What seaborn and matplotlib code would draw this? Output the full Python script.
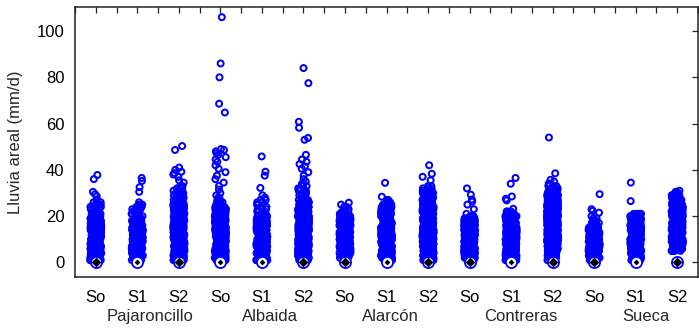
import numpy as np
import pandas as pd
import matplotlib
matplotlib.use("Agg")
import matplotlib.pyplot as plt
import matplotlib.transforms as mtransforms
from matplotlib.ticker import FixedLocator
import seaborn as sns

# ---------------- data ----------------
BASINS = ["Pajaroncillo", "Albaida", "Alarcón", "Contreras", "Sueca"]
SCENARIOS = ["So", "S1", "S2"]
Y_TICKS = [0, 20, 40, 60, 80, 100]
Y_LABEL = "Lluvia areal (mm/d)"

# daily rainfall classes (mm/d) used for the dense body of each strip
BIN_MM = [1, 2, 3, 4, 5, 6, 7, 8, 9, 10, 11, 12, 13, 14, 15, 16, 17, 18,
          19, 20, 21, 22, 23, 24, 25, 26, 27, 28, 29, 30, 31, 32, 33, 34, 35, 36]

# number of days per class (starting at 1 mm/d)
counts_pajaroncillo_so = [11, 11, 11, 11, 11, 11, 11, 11, 11, 11, 11, 11, 11, 11, 11, 11, 11, 11, 8, 8, 8, 7, 4, 4, 3, 2, 1]
counts_pajaroncillo_s1 = [11, 11, 11, 11, 11, 11, 11, 11, 11, 11, 11, 11, 11, 11, 11, 8, 8, 7, 6, 5, 4, 4, 3, 3, 2, 1]
counts_pajaroncillo_s2 = [13, 13, 13, 13, 13, 13, 13, 13, 13, 13, 13, 13, 13, 13, 13, 13, 13, 13, 13, 13, 13, 12, 12, 11, 6, 5, 5, 4, 3, 3, 3, 2, 2]
counts_albaida_so = [13, 13, 13, 13, 13, 13, 13, 13, 13, 13, 13, 13, 13, 13, 13, 13, 13, 13, 13, 13, 13, 12, 12, 10, 4, 3, 2, 2, 1, 1]
counts_albaida_s1 = [11, 11, 11, 11, 11, 11, 11, 11, 11, 11, 11, 11, 11, 11, 11, 11, 11, 11, 10, 9, 4, 4, 3, 2, 2, 2, 2, 1, 1]
counts_albaida_s2 = [13, 13, 13, 13, 13, 13, 13, 13, 13, 13, 13, 13, 13, 13, 13, 13, 13, 13, 13, 13, 13, 13, 13, 12, 11, 10, 4, 4, 3, 3, 2, 2, 2, 2, 1, 1]
counts_alarcon_so = [0, 3, 11, 11, 11, 11, 11, 11, 11, 11, 11, 11, 11, 11, 11, 11, 11, 10, 9, 8, 4, 3, 2, 2, 1]
counts_alarcon_s1 = [11, 11, 11, 11, 11, 11, 11, 11, 11, 11, 11, 11, 11, 11, 11, 11, 11, 11, 11, 11, 11, 10, 9, 8, 4, 3, 2]
counts_alarcon_s2 = [13, 13, 13, 13, 13, 13, 13, 13, 13, 13, 13, 13, 13, 13, 13, 13, 13, 13, 13, 13, 13, 13, 13, 13, 13, 12, 12, 11, 10, 9, 4, 3, 2]
counts_contreras_so = [2, 11, 11, 11, 11, 11, 11, 11, 11, 11, 11, 11, 11, 11, 11, 11, 10, 9, 6, 3]
counts_contreras_s1 = [11, 11, 11, 11, 11, 11, 11, 11, 11, 11, 11, 11, 11, 11, 11, 11, 11, 11, 10, 8, 6, 3]
counts_contreras_s2 = [2, 5, 13, 13, 13, 13, 13, 13, 13, 13, 13, 13, 13, 13, 13, 13, 13, 13, 13, 13, 13, 13, 13, 13, 13, 13, 13, 13, 12, 11, 10, 5, 4, 2]
counts_sueca_so = [2, 11, 11, 11, 11, 11, 11, 11, 11, 11, 11, 11, 11, 10, 8, 4, 3, 2, 2, 1]
counts_sueca_s1 = [11, 11, 11, 11, 11, 11, 11, 11, 11, 11, 11, 11, 11, 11, 11, 11, 11, 11, 10, 9, 4]
counts_sueca_s2 = [0, 0, 0, 0, 5, 13, 13, 13, 13, 13, 13, 13, 13, 13, 13, 13, 13, 13, 13, 13, 13, 13, 13, 13, 13, 13, 12, 11, 5, 3]

# isolated (extreme) days, mm/d
extremes_pajaroncillo_so = [28.6, 29.5, 30.5, 36.0, 37.8]
extremes_pajaroncillo_s1 = [30.5, 32.5, 35.2, 36.5]
extremes_pajaroncillo_s2 = [34.5, 35.5, 37.0, 38.0, 38.6, 39.2, 40.0, 41.0, 48.6, 50.3]
extremes_albaida_so = [31.5, 33.0, 34.5, 36.0, 37.5, 39.0, 40.5, 42.0, 43.5, 44.5, 45.5,
                       46.5, 47.2, 48.0, 48.6, 49.0, 64.8, 68.6, 80.0, 86.0, 106.0]
extremes_albaida_s1 = [32.2, 37.5, 39.2, 45.8]
extremes_albaida_s2 = [37.5, 39.0, 40.5, 41.5, 42.5, 43.5, 44.5, 46.5, 53.0, 53.8, 58.2, 60.8, 77.5, 84.0]
extremes_alarcon_so = [25.8]
extremes_alarcon_s1 = [28.4, 34.4]
extremes_alarcon_s2 = [35.5, 37.0, 38.3, 42.0]
extremes_contreras_so = [21.0, 23.0, 25.0, 26.3, 27.2, 29.3, 32.0]
extremes_contreras_s1 = [23.2, 26.8, 27.5, 28.5, 34.0, 36.5]
extremes_contreras_s2 = [35.0, 35.7, 38.5, 54.0]
extremes_sueca_so = [21.5, 22.3, 23.0, 29.5]
extremes_sueca_s1 = [26.5, 34.5]
extremes_sueca_s2 = [30.5, 31.0]

# dry days (0 mm/d), one marker per series
dry_day_mm = [0, 0, 0, 0, 0, 0, 0, 0, 0, 0, 0, 0, 0, 0, 0]

# ---------------- build tidy table ----------------
series_keys = [f"{b} {s}" for b in BASINS for s in SCENARIOS]
counts_all = [counts_pajaroncillo_so, counts_pajaroncillo_s1, counts_pajaroncillo_s2,
              counts_albaida_so, counts_albaida_s1, counts_albaida_s2,
              counts_alarcon_so, counts_alarcon_s1, counts_alarcon_s2,
              counts_contreras_so, counts_contreras_s1, counts_contreras_s2,
              counts_sueca_so, counts_sueca_s1, counts_sueca_s2]
extremes_all = [extremes_pajaroncillo_so, extremes_pajaroncillo_s1, extremes_pajaroncillo_s2,
                extremes_albaida_so, extremes_albaida_s1, extremes_albaida_s2,
                extremes_alarcon_so, extremes_alarcon_s1, extremes_alarcon_s2,
                extremes_contreras_so, extremes_contreras_s1, extremes_contreras_s2,
                extremes_sueca_so, extremes_sueca_s1, extremes_sueca_s2]

frames = []
for key, cnt, ext in zip(series_keys, counts_all, extremes_all):
    vals = np.concatenate([np.repeat(BIN_MM[:len(cnt)], cnt), np.asarray(ext, float)])
    frames.append(pd.DataFrame({"serie": key, "lluvia": vals}))
df = pd.concat(frames, ignore_index=True)

dry = pd.DataFrame({"serie": series_keys, "lluvia": dry_day_mm})
small_mark = [k for k in series_keys if k.endswith("S1") or k == "Albaida So"]
dry_big = dry[~dry["serie"].isin(small_mark)]
dry_small = dry[dry["serie"].isin(small_mark)]

# ---------------- plot ----------------
sns.set_style("white")
plt.rcParams["font.family"] = ["Liberation Sans", "DejaVu Sans"]

W, H = 699, 330
fig = plt.figure(figsize=(W / 100, H / 100), dpi=100)
ax = fig.add_axes([75 / W, 53 / H, 623 / W, 270 / H])

np.random.seed(11)
blue = "#0000ff"
sns.stripplot(data=df, x="serie", y="lluvia", order=series_keys, jitter=0.135,
              size=4.3, marker="o", color=blue, facecolor="none", edgecolor=blue,
              linewidth=1.45, ax=ax, zorder=3)
sns.stripplot(data=dry, x="serie", y="lluvia", order=series_keys, jitter=False,
              size=8, marker="o", color="white", facecolor="white", edgecolor=blue,
              linewidth=1.3, ax=ax, zorder=4)
sns.stripplot(data=dry_big, x="serie", y="lluvia", order=series_keys, jitter=False,
              size=5, marker="D", color="black", edgecolor="black", linewidth=0,
              ax=ax, zorder=5)
sns.stripplot(data=dry_small, x="serie", y="lluvia", order=series_keys, jitter=False,
              size=3, marker="D", color="black", edgecolor="black", linewidth=0,
              ax=ax, zorder=5)

ax.set_xlim(-0.5, len(series_keys) - 0.5)
ax.set_ylim(-6.3, 110.4)
ax.set_yticks(Y_TICKS)
ax.set_yticklabels([str(v) for v in Y_TICKS])
ax.set_xticks(range(len(series_keys)))
ax.set_xticklabels([k.split(" ")[-1] for k in series_keys])
ax.xaxis.set_minor_locator(FixedLocator(np.arange(-0.5, len(series_keys), 1.0)))
ax.set_xlabel("")
ax.set_ylabel(Y_LABEL, fontsize=12)
ax.yaxis.set_label_coords(-0.083, 0.5)

ax.tick_params(axis="both", which="both", direction="in", top=True, right=True,
               length=4, width=0.9, color="#222222", labelsize=12, labelcolor="black")
ax.tick_params(axis="x", which="both", pad=9)
ax.tick_params(axis="y", pad=7.5)
for sp in ax.spines.values():
    sp.set_visible(True)
    sp.set_color("#222222")
    sp.set_linewidth(1.1)

trans = mtransforms.blended_transform_factory(ax.transData, ax.transAxes)
GROUP_LABEL_X = [1.31, 4.2, 7.1, 10.23, 13.24]
for gx, name in zip(GROUP_LABEL_X, BASINS):
    ax.text(gx, -0.145, name, transform=trans, ha="center", va="center", fontsize=12)

fig.savefig("out.png", dpi=100)
